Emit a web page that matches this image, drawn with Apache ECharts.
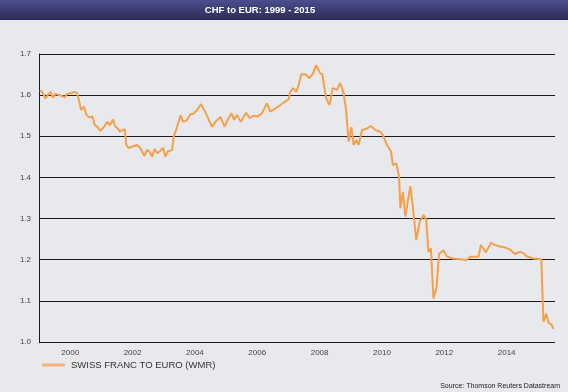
<!DOCTYPE html>
<html>
<head>
<meta charset="utf-8">
<script src="https://cdn.jsdelivr.net/npm/echarts@6/dist/echarts.min.js"></script>
<style>
html,body{margin:0;padding:0;background:#e8e9ec;}
#chart{width:568px;height:392px;}
</style>
</head>
<body>
<div id="chart"></div>
<script>
// Decimal years and CHF per EUR values
const dates = [
1999.03,1999.10,1999.21,1999.28,1999.37,1999.44,1999.53,1999.69,1999.83,1999.90,
2000.03,2000.14,2000.22,2000.28,2000.35,2000.44,2000.52,2000.60,2000.71,2000.79,2000.87,2000.97,
2001.08,2001.19,2001.27,2001.38,2001.45,2001.53,2001.59,2001.67,2001.75,2001.80,2001.88,2001.99,
2002.15,2002.25,2002.38,2002.47,2002.54,2002.63,2002.71,2002.79,2002.87,2002.98,
2003.05,2003.13,2003.19,2003.27,2003.32,2003.43,2003.54,2003.63,2003.73,2003.86,2003.96,
2004.07,2004.20,2004.30,2004.41,2004.55,2004.69,2004.82,2004.95,
2005.08,2005.17,2005.26,2005.35,2005.47,2005.64,2005.76,2005.88,
2006.01,2006.15,2006.31,2006.42,2006.63,2006.85,
2007.01,2007.06,2007.15,2007.25,2007.33,2007.41,2007.54,2007.68,2007.79,2007.89,
2008.02,2008.09,2008.13,2008.21,2008.32,2008.42,2008.56,2008.66,2008.77,2008.85,2008.93,
2009.02,2009.09,2009.18,2009.25,2009.36,2009.52,2009.65,2009.79,2009.95,
2010.03,2010.16,2010.29,2010.35,2010.46,2010.55,2010.59,2010.67,2010.75,2010.91,2010.99,
2011.10,2011.21,2011.26,2011.33,2011.42,2011.49,2011.57,2011.65,2011.75,2011.83,2011.97,
2012.08,2012.27,2012.51,2012.72,2012.83,
2013.10,2013.17,2013.33,2013.50,2013.65,2013.79,2013.98,
2014.11,2014.27,2014.43,2014.54,2014.65,2014.86,
2015.11,2015.18,2015.27,2015.34,2015.43,2015.50
];
const rates = [
1.612,1.608,1.592,1.600,1.608,1.594,1.603,1.599,1.595,1.603,
1.605,1.608,1.605,1.588,1.564,1.572,1.552,1.546,1.548,1.527,1.523,1.513,
1.523,1.535,1.527,1.541,1.523,1.519,1.511,1.515,1.517,1.479,1.471,1.475,
1.479,1.471,1.452,1.467,1.463,1.450,1.469,1.459,1.463,1.472,
1.450,1.463,1.459,1.467,1.499,1.523,1.551,1.535,1.538,1.554,1.555,
1.564,1.578,1.564,1.546,1.523,1.538,1.547,1.523,
1.544,1.556,1.540,1.552,1.535,1.557,1.544,1.550,
1.548,1.556,1.580,1.560,1.570,1.582,
1.590,1.608,1.617,1.608,1.625,1.651,1.651,1.641,1.653,1.673,
1.653,1.651,1.629,1.592,1.576,1.617,1.613,1.630,1.605,1.564,1.487,
1.522,1.479,1.491,1.479,1.515,1.519,1.525,1.515,1.511,
1.503,1.479,1.463,1.430,1.434,1.402,1.325,1.365,1.305,1.379,1.329,
1.248,1.292,1.288,1.309,1.297,1.219,1.228,1.106,1.131,1.214,1.223,
1.208,1.203,1.201,1.199,1.207,
1.207,1.236,1.218,1.241,1.235,1.232,1.229,
1.224,1.214,1.219,1.216,1.208,1.203,
1.201,1.049,1.069,1.047,1.043,1.032
];
const xTickYears = [2000,2002,2004,2006,2008,2010,2012,2014];
const seriesName = 'SWISS FRANC TO EURO (WMR)';
const titleText = 'CHF to EUR: 1999 - 2015';
const sourceText = 'Source: Thomson Reuters Datastream';

const chart = echarts.init(document.getElementById('chart'), null, {renderer:'canvas'});
const pts = dates.map((d,i)=>[d, rates[i]]);
chart.setOption({
  backgroundColor:'#e8e9ec',
  animation:false,
  grid:{left:39, right:13, top:54, bottom:50, containLabel:false},
  xAxis:{
    type:'value', min:1999, max:2015.55, interval:1,
    axisLine:{show:false}, axisTick:{show:false}, splitLine:{show:false},
    axisLabel:{
      color:'#444', fontSize:8, fontFamily:'Liberation Sans, Arial, sans-serif', margin:7,
      showMinLabel:false, showMaxLabel:false,
      formatter:function(v){ return xTickYears.indexOf(Math.round(v))>=0 && Math.abs(v-Math.round(v))<1e-6 ? String(Math.round(v)) : ''; }
    }
  },
  yAxis:{
    type:'value', min:1.0, max:1.7, interval:0.1,
    axisLine:{show:true, lineStyle:{color:'#1a1a1a', width:1}},
    axisTick:{show:false},
    splitLine:{show:true, lineStyle:{color:'#1a1a1a', width:1}},
    axisLabel:{color:'#444', fontSize:8, fontFamily:'Liberation Sans, Arial, sans-serif', margin:8,
      formatter:function(v){return v.toFixed(1);}}
  },
  legend:{
    left:42, top:360, padding:0, icon:'rect', itemWidth:23, itemHeight:3, itemGap:10,
    textStyle:{color:'#333', fontSize:9.5, fontFamily:'Liberation Sans, Arial, sans-serif', padding:[0,0,0,1]},
    data:[{name:seriesName, itemStyle:{color:'#f5b27a'}}]
  },
  series:[{
    name:seriesName, type:'line', data:pts, showSymbol:false, symbol:'none',
    lineStyle:{color:'#f5a04a', width:2}, itemStyle:{color:'#f5a04a'}
  }],
  graphic:[
    {type:'rect', shape:{x:0,y:0,width:568,height:20}, z:10,
     style:{fill:new echarts.graphic.LinearGradient(0,0,0,1,[{offset:0,color:'#4b4e8e'},{offset:1,color:'#2c2b56'}])}},
    {type:'text', x:260, y:10.5, z:11,
     style:{text:titleText, fill:'#ffffff', fontSize:9.5, fontWeight:'bold',
       fontFamily:'Liberation Sans, Arial, sans-serif', align:'center', verticalAlign:'middle'}},
    {type:'text', x:560, y:386, z:11,
     style:{text:sourceText, fill:'#222', fontSize:7,
       fontFamily:'Liberation Sans, Arial, sans-serif', align:'right', verticalAlign:'middle'}}
  ]
});
</script>
</body>
</html>
